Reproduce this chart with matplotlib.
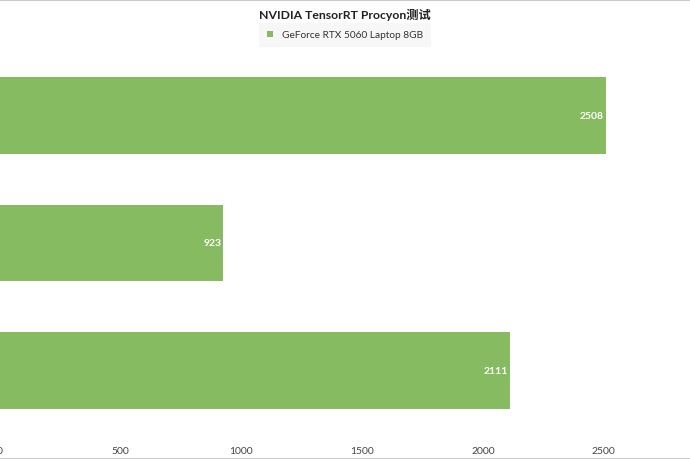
import numpy as np
import matplotlib.pyplot as plt

plt.rcParams['font.family'] = ['Lato', 'Noto Sans CJK SC', 'DejaVu Sans']

title = "NVIDIA TensorRT Procyon测试"
series_name = "GeForce RTX 5060 Laptop 8GB"
scores = [2111, 923, 2508]          # bottom to top
xticks = [0, 500, 1000, 1500, 2000, 2500]
green = "#87BB62"

fig = plt.figure(figsize=(6.9, 4.6), dpi=100)
ax = fig.add_axes([0, 24.5 / 460, 1, 383 / 460])

y = np.arange(len(scores))
bars = ax.barh(y, scores, height=0.6, color=green, label=series_name)
for b, v in zip(bars, scores):
    ax.text(b.get_width() - 7, b.get_y() + b.get_height() / 2, str(v),
            ha='right', va='center', color='white', fontsize=7.5, fontweight='bold')

ax.set_xlim(0, 2858)
ax.set_ylim(-0.5, len(scores) - 0.5)
ax.set_xticks(xticks)
ax.set_xticklabels([str(t) for t in xticks], fontsize=7.5, color='#444444')
ax.set_yticks([])
ax.tick_params(axis='x', length=0, pad=8)
for s in ax.spines.values():
    s.set_visible(False)

fig.text(0.5, 1 - 15 / 460, title, ha='center', va='center',
         fontsize=8.8, fontweight='bold', color='#222222')
leg = fig.legend(handles=[bars], labels=[series_name], loc='center',
                 bbox_to_anchor=(345 / 690, 1 - 36 / 460), frameon=True,
                 fontsize=7.3, handlelength=0.6, handleheight=0.6,
                 borderpad=0.45, handletextpad=0.9, borderaxespad=0)
leg.get_frame().set_facecolor('#F5F5F5')
leg.get_frame().set_edgecolor('none')
leg.get_frame().set_boxstyle('square', pad=0.3)
for t in leg.get_texts():
    t.set_color('#333333')

fig.add_artist(plt.Line2D([0, 1], [1 - 0.5 / 460, 1 - 0.5 / 460], color='#CCCCCC', lw=1.5))
fig.add_artist(plt.Line2D([0, 1], [0.5 / 460, 0.5 / 460], color='#CCCCCC', lw=1.5))

fig.savefig("out.png", dpi=100)
